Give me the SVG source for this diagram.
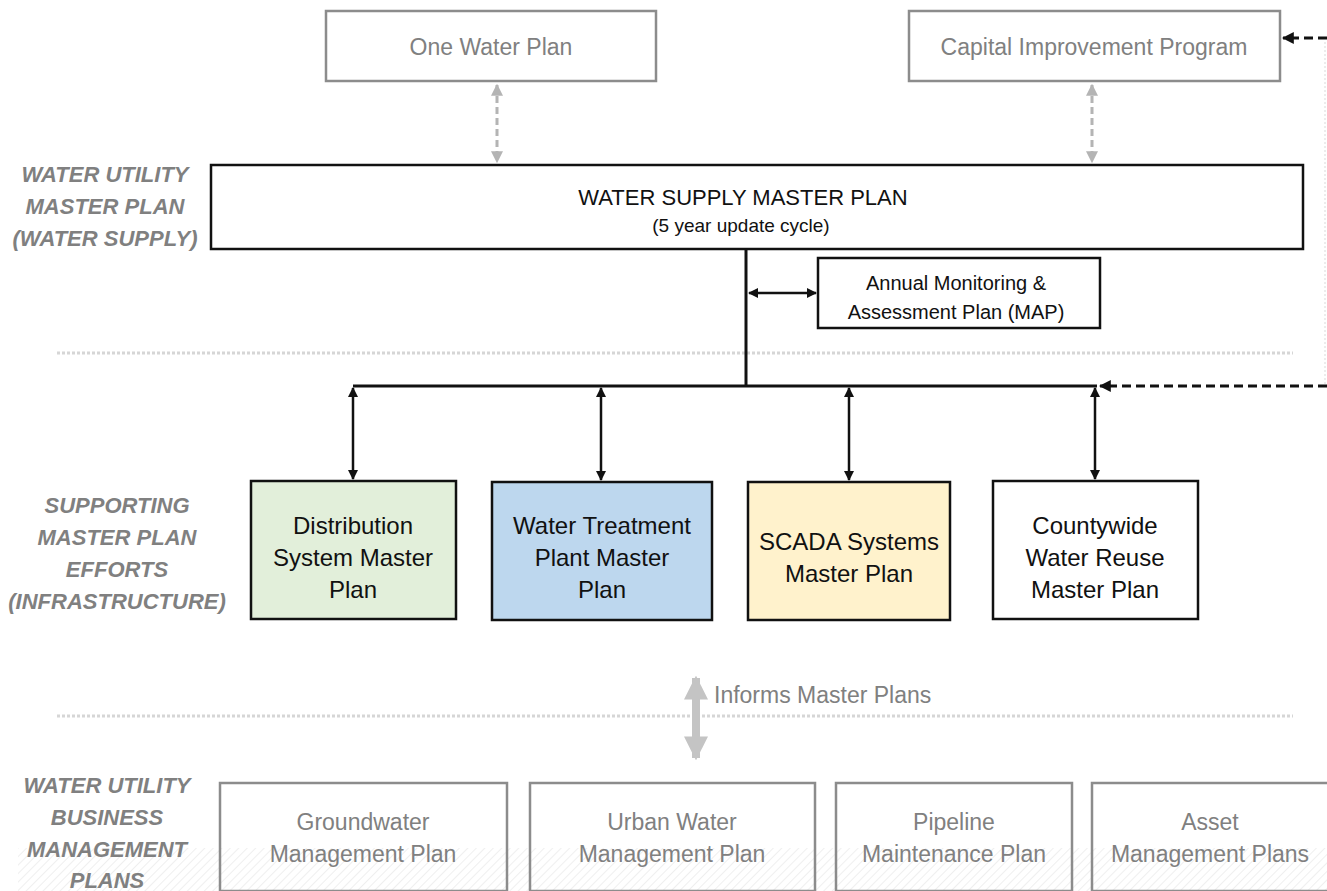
<svg xmlns="http://www.w3.org/2000/svg" width="1327" height="891" viewBox="0 0 1327 891">
<defs>
<style>
.t{font-family:"Liberation Sans",Arial,sans-serif;text-anchor:middle}
.lbl{font-family:"Liberation Sans",Arial,sans-serif;font-weight:bold;font-style:italic;fill:#808080;font-size:22px;text-anchor:middle}
.gbox{fill:none;stroke:#8c8c8c;stroke-width:2.5}
.bbox{stroke:#111;stroke-width:2.5}
.gtxt{fill:#808080;font-size:23px}
.btxt{fill:#111;font-size:24px}
.sep{stroke:#d6d6d6;stroke-width:3;stroke-dasharray:3,2}
</style>
<pattern id="hatch" width="6" height="6" patternUnits="userSpaceOnUse" patternTransform="rotate(45)">
<rect width="6" height="6" fill="#ffffff"/>
<line x1="0" y1="0" x2="0" y2="6" stroke="#efefef" stroke-width="2"/>
</pattern>
<marker id="ab" viewBox="0 0 10 10" refX="9" refY="5" markerWidth="4" markerHeight="4" orient="auto-start-reverse" markerUnits="strokeWidth">
<path d="M0,0 L10,5 L0,10 z" fill="#111"/>
</marker>
<marker id="ag" viewBox="0 0 10 10" refX="9" refY="5" markerWidth="4" markerHeight="4" orient="auto-start-reverse" markerUnits="strokeWidth">
<path d="M0,0 L10,5 L0,10 z" fill="#b4b4b4"/>
</marker>
<marker id="agb" viewBox="0 0 10 10" refX="9" refY="5" markerWidth="3" markerHeight="3" orient="auto-start-reverse" markerUnits="strokeWidth">
<path d="M0,0 L10,5 L0,10 z" fill="#c4c4c4"/>
</marker>
</defs>
<rect width="1327" height="891" fill="#ffffff"/>
<rect x="18" y="848" width="1309" height="43" fill="url(#hatch)"/>

<g id="separators">
<line class="sep" x1="57" y1="353" x2="1293" y2="353"/>
<line class="sep" x1="57" y1="716" x2="1293" y2="716"/>
<line x1="1325" y1="42" x2="1325" y2="385" stroke="#e6e6e6" stroke-width="1.5" stroke-dasharray="2,2"/>
</g>

<g id="labels">
<text class="lbl" x="105" y="182">WATER UTILITY</text>
<text class="lbl" x="105" y="214">MASTER PLAN</text>
<text class="lbl" x="105" y="246">(WATER SUPPLY)</text>
<text class="lbl" x="117" y="513">SUPPORTING</text>
<text class="lbl" x="117" y="545">MASTER PLAN</text>
<text class="lbl" x="117" y="577">EFFORTS</text>
<text class="lbl" x="117" y="609">(INFRASTRUCTURE)</text>
<text class="lbl" x="107" y="793">WATER UTILITY</text>
<text class="lbl" x="107" y="825">BUSINESS</text>
<text class="lbl" x="107" y="857">MANAGEMENT</text>
<text class="lbl" x="107" y="888">PLANS</text>
</g>

<g id="connectors">
<line x1="497" y1="85" x2="497" y2="162" stroke="#b4b4b4" stroke-width="3" stroke-dasharray="7,4" marker-start="url(#ag)" marker-end="url(#ag)"/>
<line x1="1092" y1="85" x2="1092" y2="162" stroke="#b4b4b4" stroke-width="3" stroke-dasharray="7,4" marker-start="url(#ag)" marker-end="url(#ag)"/>
<line x1="746" y1="249" x2="746" y2="386" stroke="#111" stroke-width="3"/>
<line x1="749" y1="293" x2="816" y2="293" stroke="#111" stroke-width="2.5" marker-start="url(#ab)" marker-end="url(#ab)"/>
<line x1="353" y1="386" x2="1097" y2="386" stroke="#111" stroke-width="3"/>
<line x1="353" y1="388" x2="353" y2="479" stroke="#111" stroke-width="2.5" marker-start="url(#ab)" marker-end="url(#ab)"/>
<line x1="601" y1="388" x2="601" y2="480" stroke="#111" stroke-width="2.5" marker-start="url(#ab)" marker-end="url(#ab)"/>
<line x1="849" y1="388" x2="849" y2="480" stroke="#111" stroke-width="2.5" marker-start="url(#ab)" marker-end="url(#ab)"/>
<line x1="1095" y1="388" x2="1095" y2="479" stroke="#111" stroke-width="2.5" marker-start="url(#ab)" marker-end="url(#ab)"/>
<line x1="1327" y1="386" x2="1100" y2="386" stroke="#111" stroke-width="3" stroke-dasharray="9,5" marker-end="url(#ab)"/>
<line x1="1327" y1="38" x2="1283" y2="38" stroke="#111" stroke-width="3" stroke-dasharray="9,5" marker-end="url(#ab)"/>
<line x1="696" y1="678" x2="696" y2="758" stroke="#c4c4c4" stroke-width="8" marker-start="url(#agb)" marker-end="url(#agb)"/>
<text class="t gtxt" x="714" y="703" style="text-anchor:start">Informs Master Plans</text>
</g>

<g id="one-water-plan">
<rect class="gbox" x="326" y="11" width="330" height="70"/>
<text class="t gtxt" x="491" y="55">One Water Plan</text>
</g>
<g id="cip">
<rect class="gbox" x="909" y="11" width="371" height="70"/>
<text class="t gtxt" x="1094" y="55">Capital Improvement Program</text>
</g>
<g id="wsmp">
<rect class="bbox" x="211" y="165" width="1092" height="84" fill="#ffffff"/>
<text class="t btxt" x="743" y="205" style="font-size:22px">WATER SUPPLY MASTER PLAN</text>
<text class="t btxt" x="741" y="232" style="font-size:19px">(5 year update cycle)</text>
</g>
<g id="map">
<rect class="bbox" x="818" y="258" width="282" height="70" fill="#ffffff"/>
<text class="t btxt" x="956" y="290" style="font-size:20px">Annual Monitoring &amp;</text>
<text class="t btxt" x="956" y="319" style="font-size:20px">Assessment Plan (MAP)</text>
</g>
<g id="distribution">
<rect class="bbox" x="251" y="481" width="205" height="138" fill="#e2efda"/>
<text class="t btxt" x="353" y="534">Distribution</text>
<text class="t btxt" x="353" y="566">System Master</text>
<text class="t btxt" x="353" y="598">Plan</text>
</g>
<g id="wtp">
<rect class="bbox" x="492" y="482" width="220" height="138" fill="#bdd7ee"/>
<text class="t btxt" x="602" y="534">Water Treatment</text>
<text class="t btxt" x="602" y="566">Plant Master</text>
<text class="t btxt" x="602" y="598">Plan</text>
</g>
<g id="scada">
<rect class="bbox" x="748" y="482" width="202" height="138" fill="#fff2cc"/>
<text class="t btxt" x="849" y="550">SCADA Systems</text>
<text class="t btxt" x="849" y="582">Master Plan</text>
</g>
<g id="reuse">
<rect class="bbox" x="993" y="481" width="205" height="138" fill="#ffffff"/>
<text class="t btxt" x="1095" y="534">Countywide</text>
<text class="t btxt" x="1095" y="566">Water Reuse</text>
<text class="t btxt" x="1095" y="598">Master Plan</text>
</g>
<g id="groundwater">
<rect class="gbox" x="220" y="783" width="287" height="108"/>
<text class="t gtxt" x="363" y="830">Groundwater</text>
<text class="t gtxt" x="363" y="862">Management Plan</text>
</g>
<g id="urban">
<rect class="gbox" x="530" y="783" width="285" height="108"/>
<text class="t gtxt" x="672" y="830">Urban Water</text>
<text class="t gtxt" x="672" y="862">Management Plan</text>
</g>
<g id="pipeline">
<rect class="gbox" x="836" y="783" width="236" height="108"/>
<text class="t gtxt" x="954" y="830">Pipeline</text>
<text class="t gtxt" x="954" y="862">Maintenance Plan</text>
</g>
<g id="asset">
<rect class="gbox" x="1092" y="783" width="240" height="108"/>
<text class="t gtxt" x="1210" y="830">Asset</text>
<text class="t gtxt" x="1210" y="862">Management Plans</text>
</g>
</svg>
